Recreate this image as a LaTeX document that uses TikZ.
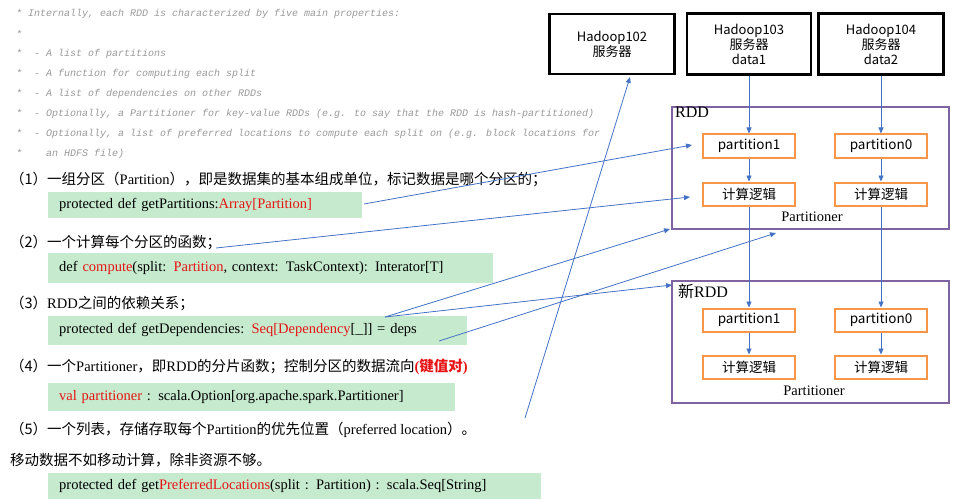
\documentclass[tikz,border=0pt]{standalone}
\usepackage{fontspec}
\setmainfont{Liberation Serif}
\newfontfamily\cjk{Noto Sans CJK SC}
\newfontfamily\cmt{Liberation Mono}
\usetikzlibrary{arrows.meta}
\definecolor{cgreen}{RGB}{198,234,205}
\definecolor{cpurple}{RGB}{128,100,162}
\definecolor{corange}{RGB}{247,150,70}
\definecolor{cblue}{RGB}{68,114,196}
\definecolor{cred}{RGB}{230,20,20}
\begin{document}
\begin{tikzpicture}[x=1pt,y=-1pt,
 srv/.style={draw,line width=2.2pt,font=\cjk\fontsize{13}{15}\selectfont,align=center,inner sep=0},
 rdd/.style={draw=cpurple,line width=2pt},
 pbox/.style={draw=corange,line width=2pt,minimum width=92pt,minimum height=23pt,inner sep=0,font=\cjk\fontsize{13.5}{15}\selectfont},
 cbox/.style={fill=cgreen,anchor=west,inner sep=0,inner xsep=11pt,align=left,font=\fontsize{14.5}{16}\selectfont},
 cmtx/.style={anchor=west,text=gray!80,font=\cmt\itshape\fontsize{10}{12}\selectfont,inner sep=0},
 tx/.style={anchor=west,inner sep=0,font=\fontsize{14.5}{17}\selectfont},
 ar/.style={draw=cblue,line width=0.8pt,-{Triangle[length=6pt,width=5pt]}}]
\useasboundingbox (0,0) rectangle (966,500);
% comments
\node[cmtx] (c1) at (16,14) {* Internally, each RDD is characterized by five main properties:};
\node[cmtx] (c2) at (16,34) {*};
\node[cmtx] (c3) at (16,54) {*\ \ - A list of partitions};
\node[cmtx] (c4) at (16,74) {*\ \ - A function for computing each split};
\node[cmtx] (c5) at (16,94) {*\ \ - A list of dependencies on other RDDs};
\node[cmtx] (c6) at (16,114) {*\ \ - Optionally, a Partitioner for key-value RDDs (e.g. to say that the RDD is hash-partitioned)};
\node[cmtx] (c7) at (16,134) {*\ \ - Optionally, a list of preferred locations to compute each split on (e.g. block locations for};
\node[cmtx] (c8) at (16,154) {*\ \ \ \ an HDFS file)};
% text lines
\node[tx] (t1) at (10,179) {{\cjk （1）一组分区（}Partition{\cjk ），即是数据集的基本组成单位，标记数据是哪个分区的；}};
\node[cbox,text width=292pt,minimum height=26pt] (g1) at (48,205) {protected def getPartitions:\textcolor{cred}{Array[Partition]}};
\node[tx] (t2) at (10,242) {{\cjk （2）一个计算每个分区的函数；}};
\node[cbox,text width=423pt,minimum height=30pt] (g2) at (48,268) {def \textcolor{cred}{compute}(split: \textcolor{cred}{Partition}, context: TaskContext): Interator[T]};
\node[tx] (t3) at (10,303) {{\cjk （3）}RDD{\cjk 之间的依赖关系；}};
\node[cbox,text width=397pt,minimum height=29pt] (g3) at (48,330) {protected def getDependencies: \textcolor{cred}{Seq[Dependency}[\_]] = deps};
\node[tx] (t4) at (10,367) {{\cjk （4）一个}Partitioner{\cjk ，即}RDD{\cjk 的分片函数；控制分区的数据流向}\textcolor{cred}{\bfseries(}{\cjk\bfseries\color{cred}键值对}\textcolor{cred}{\bfseries)}};
\node[cbox,text width=385pt,minimum height=28pt] (g4) at (48,397) {\textcolor{cred}{val partitioner} : scala.Option[org.apache.spark.Partitioner]};
\node[tx] (t5) at (10,430) {{\cjk （5）一个列表，存储存取每个}Partition{\cjk 的优先位置（}preferred location{\cjk ）。}};
\node[tx] (t6) at (10,460) {{\cjk 移动数据不如移动计算，除非资源不够。}};
\node[cbox,text width=471pt,minimum height=26pt] (g5) at (48,486) {protected def get\textcolor{cred}{PreferredLocations}(split : Partition) : scala.Seq[String]};
% servers
\node[srv,minimum width=125pt,minimum height=60pt] (h2) at (612,44) {Hadoop102\\服务器};
\node[srv,minimum width=124pt,minimum height=61pt] (h3) at (749,44) {Hadoop103\\服务器\\data1};
\node[srv,minimum width=125pt,minimum height=61pt] (h4) at (881,44) {Hadoop104\\服务器\\data2};
% RDD
\draw[rdd] (672,107) rectangle (949,229);
\node[anchor=north west,inner sep=0,font=\fontsize{16}{18}\selectfont] (rl) at (675,107) {RDD};
\node[pbox] (p1) at (749,146) {partition1};
\node[pbox] (p0) at (881,146) {partition0};
\node[pbox] (k1) at (749,194) {计算逻辑};
\node[pbox] (k0) at (881,194) {计算逻辑};
\node[inner sep=0,font=\fontsize{14.5}{16}\selectfont] (pt) at (812,217) {Partitioner};
% new RDD
\draw[rdd] (672,281) rectangle (949,403);
\node[anchor=north west,inner sep=0,font=\fontsize{16}{18}\selectfont] (nl) at (678,284) {{\cjk 新}RDD};
\node[pbox] (q1) at (749,320) {partition1};
\node[pbox] (q0) at (881,320) {partition0};
\node[pbox] (m1) at (749,367) {计算逻辑};
\node[pbox] (m0) at (881,367) {计算逻辑};
\node[inner sep=0,font=\fontsize{14.5}{16}\selectfont] (pt2) at (814,391) {Partitioner};
% vertical arrows
\draw[ar] (h3.south) -- (p1.north);
\draw[ar] (h4.south) -- (p0.north);
\draw[ar] (p1) -- (k1);
\draw[ar] (p0) -- (k0);
\draw[ar] (k1) -- (q1);
\draw[ar] (k0) -- (q0);
\draw[ar] (q1) -- (m1);
\draw[ar] (q0) -- (m0);
% cross arrows
\coordinate (s1) at (364,204);
\coordinate (e1) at (692,145);
\coordinate (s2) at (216,248);
\coordinate (e2) at (690,197);
\coordinate (s3) at (385,317);
\coordinate (e3) at (670,229);
\coordinate (e4) at (672,285);
\coordinate (s5) at (439,341);
\coordinate (e5) at (776,233);
\coordinate (s6) at (525,418);
\coordinate (e6) at (630,77);
\draw[ar] (s1) -- (e1);
\draw[ar] (s2) -- (e2);
\draw[ar] (s3) -- (e3);
\draw[ar] (s3) -- (e4);
\draw[ar] (s5) -- (e5);
\draw[ar] (s6) -- (e6);
\end{tikzpicture}
\end{document}
